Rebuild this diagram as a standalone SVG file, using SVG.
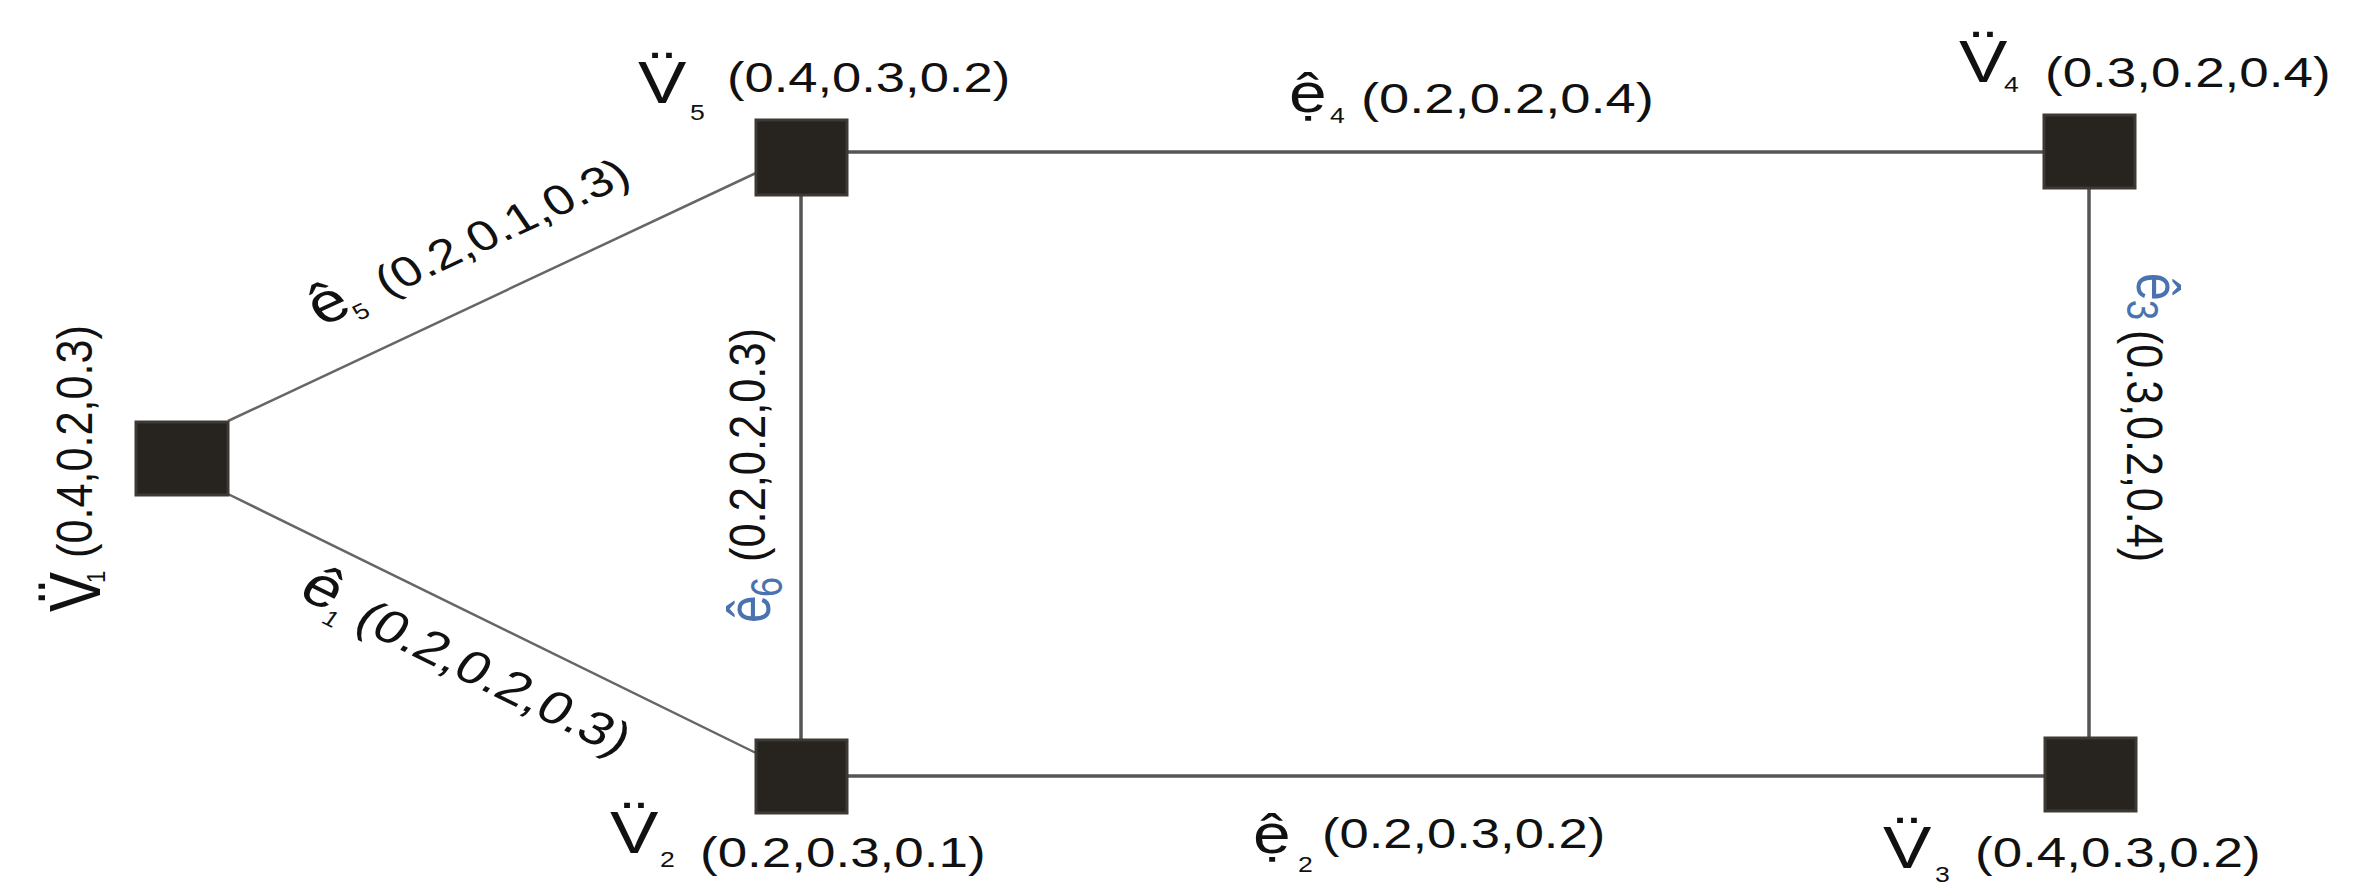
<svg xmlns="http://www.w3.org/2000/svg" width="2360" height="896" viewBox="0 0 2360 896">
<style>
text{font-family:"Liberation Sans",Arial,sans-serif;fill:#111}
.v{font-size:60px}
.sub{font-size:22px}
.t{font-size:42px}
.e{font-size:56px}
.blue{fill:#4a72b0}
.node{fill:#27231f;stroke:#3d3a35;stroke-width:3}
.edge{stroke:#555;stroke-width:3.5;fill:none}
.diag{stroke:#666;stroke-width:2.5;fill:none}
</style>
<rect width="2360" height="896" fill="#fff"/>
<g id="edges">
<line class="edge" x1="847" y1="152" x2="2044" y2="152"/>
<line class="edge" x1="847" y1="776" x2="2045" y2="776"/>
<line class="edge" x1="801" y1="195" x2="801" y2="740"/>
<line class="edge" x1="2089" y1="188" x2="2089" y2="738"/>
<line class="diag" x1="228" y1="421" x2="756" y2="173"/>
<line class="diag" x1="228" y1="494" x2="756" y2="753"/>
<g id="label-e4">
<text class="e" transform="translate(1289,112) scale(1.21,1)">ệ</text>
<text class="sub" transform="translate(1330,123) scale(1.21,1)">4</text>
<text class="t" transform="translate(1361,113) scale(1.21,1)" textLength="242" lengthAdjust="spacingAndGlyphs">(0.2,0.2,0.4)</text>
</g>
<g id="label-e2">
<text class="e" transform="translate(1253,853) scale(1.21,1)">ệ</text>
<text class="sub" transform="translate(1298,872) scale(1.21,1)">2</text>
<text class="t" transform="translate(1322,848) scale(1.21,1)" textLength="234" lengthAdjust="spacingAndGlyphs">(0.2,0.3,0.2)</text>
</g>
<g id="label-e6">
<text class="blue" style="font-size:50px" transform="translate(770,623) scale(1.21,1) rotate(-90)">ê</text>
<text class="blue" style="font-size:36px" transform="translate(782,597) scale(1.21,1) rotate(-90)">6</text>
<text class="t" transform="translate(765,562) scale(1.21,1) rotate(-90)" textLength="234" lengthAdjust="spacingAndGlyphs">(0.2,0.2,0.3)</text>
</g>
<g id="label-e3">
<text class="blue" style="font-size:50px" transform="translate(2137,273) scale(1.21,1) rotate(90)">ê</text>
<text class="blue" style="font-size:36px" transform="translate(2127,300) scale(1.21,1) rotate(90)">3</text>
<text class="t" transform="translate(2127,330) scale(1.21,1) rotate(90)" textLength="232" lengthAdjust="spacingAndGlyphs">(0.3,0.2,0.4)</text>
</g>
<g id="label-e5">
<text class="e" transform="translate(322,327) scale(1.21,1) rotate(-29.5)">ê</text>
<text class="sub" transform="translate(359,321) scale(1.21,1) rotate(-29.5)">5</text>
<text class="t" transform="translate(387,297) scale(1.21,1) rotate(-29.5)" textLength="234" lengthAdjust="spacingAndGlyphs">(0.2,0.1,0.3)</text>
</g>
<g id="label-e1">
<text class="e" transform="translate(296,596) scale(1.21,1) rotate(30.8)">ê</text>
<text class="sub" transform="translate(320,622) scale(1.21,1) rotate(30.8)">1</text>
<text class="t" style="font-size:46px" transform="translate(352,626) scale(1.21,1) rotate(30.8)" textLength="255" lengthAdjust="spacingAndGlyphs">(0.2,0.2,0.3)</text>
</g>
</g>
<g id="node-v1">
<rect class="node" x="136" y="422" width="92" height="73"/>
<text class="v" transform="translate(100,612) scale(1.21,1) rotate(-90)">V̈</text>
<text class="sub" transform="translate(105,583) scale(1.21,1) rotate(-90)">1</text>
<text class="t" transform="translate(92,558) scale(1.21,1) rotate(-90)" textLength="233" lengthAdjust="spacingAndGlyphs">(0.4,0.2,0.3)</text>
</g>
<g id="node-v5">
<rect class="node" x="756" y="120" width="91" height="75"/>
<text class="v" transform="translate(638,103) scale(1.21,1)">V̈</text>
<text class="sub" transform="translate(690,120) scale(1.21,1)">5</text>
<text class="t" transform="translate(727,92) scale(1.21,1)" textLength="234" lengthAdjust="spacingAndGlyphs">(0.4,0.3,0.2)</text>
</g>
<g id="node-v4">
<rect class="node" x="2044" y="115" width="91" height="73"/>
<text class="v" transform="translate(1959,82) scale(1.21,1)">V̈</text>
<text class="sub" transform="translate(2004,92) scale(1.21,1)">4</text>
<text class="t" transform="translate(2045,87) scale(1.21,1)" textLength="236" lengthAdjust="spacingAndGlyphs">(0.3,0.2,0.4)</text>
</g>
<g id="node-v2">
<rect class="node" x="756" y="740" width="91" height="73"/>
<text class="v" transform="translate(610,853) scale(1.21,1)">V̈</text>
<text class="sub" transform="translate(660,867) scale(1.21,1)">2</text>
<text class="t" transform="translate(700,867) scale(1.21,1)" textLength="236" lengthAdjust="spacingAndGlyphs">(0.2,0.3,0.1)</text>
</g>
<g id="node-v3">
<rect class="node" x="2045" y="738" width="91" height="73"/>
<text class="v" transform="translate(1883,868) scale(1.21,1)">V̈</text>
<text class="sub" transform="translate(1935,882) scale(1.21,1)">3</text>
<text class="t" transform="translate(1975,867) scale(1.21,1)" textLength="236" lengthAdjust="spacingAndGlyphs">(0.4,0.3,0.2)</text>
</g>
</svg>
